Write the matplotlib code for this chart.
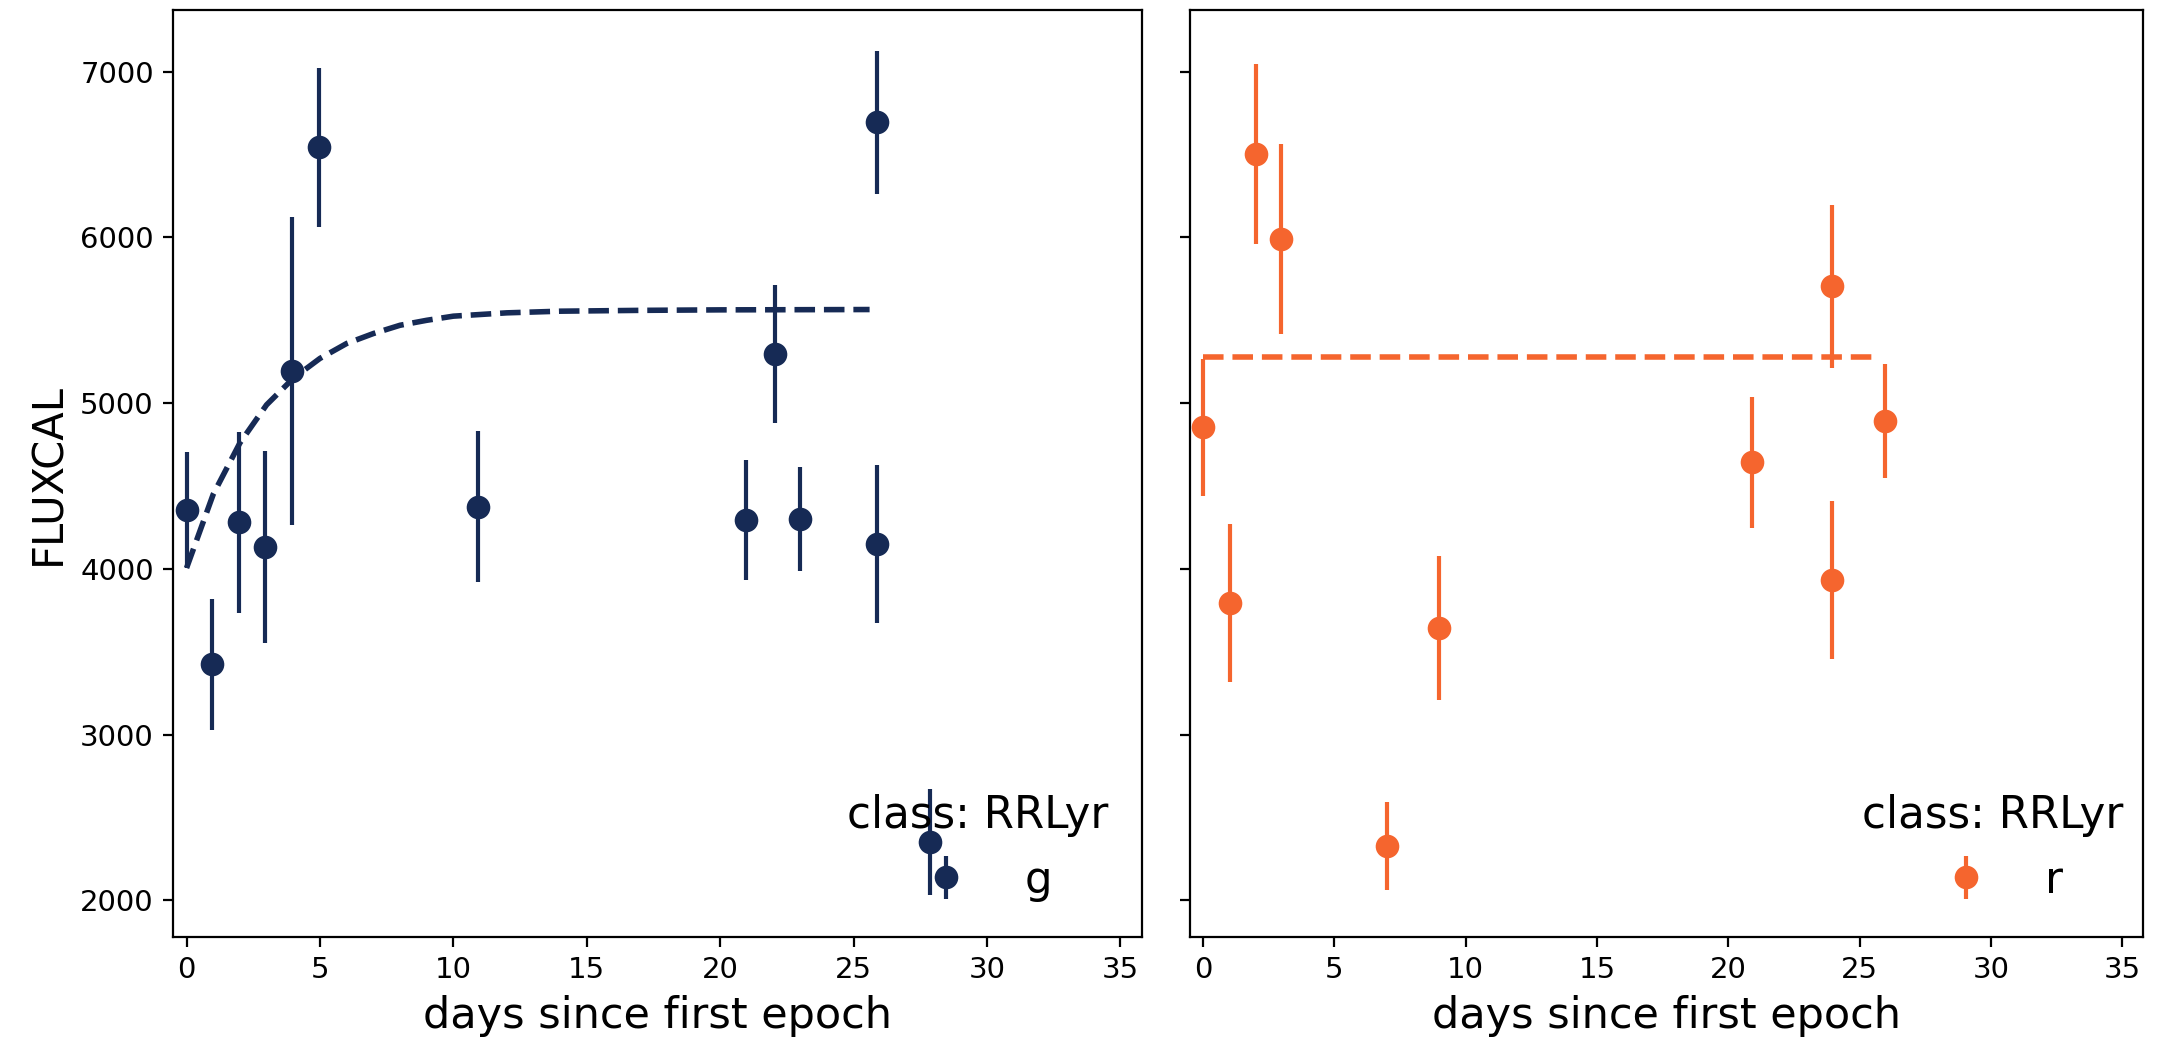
import numpy as np
import matplotlib.pyplot as plt

# g band observations
g_days = [0.0, 0.96, 1.95, 2.94, 3.94, 4.98, 10.92, 20.97, 22.04, 22.98, 25.87, 25.87, 27.88]
g_flux = [4354, 3423, 4281, 4133, 5196, 6543, 4374, 4294, 5296, 4302, 6695, 4149, 2353]
g_err = [350, 395, 545, 580, 930, 480, 455, 360, 415, 315, 430, 475, 320]

# r band observations
r_days = [0.0, 1.02, 2.01, 2.99, 7.01, 9.0, 20.92, 23.96, 23.96, 25.95]
r_flux = [4855, 3792, 6503, 5990, 2329, 3644, 4642, 5705, 3933, 4891]
r_err = [413, 477, 545, 575, 266, 433, 395, 490, 475, 345]

# fitted model curves
g_fit_days = [0, 1, 2, 3, 4, 5, 6, 7, 8, 9, 10, 12, 14, 17, 20, 25.6]
g_fit_flux = [4005, 4450, 4760, 4990, 5150, 5270, 5360, 5420, 5470, 5500, 5525, 5545, 5555, 5560, 5563, 5565]
r_fit_days = [0, 25.6]
r_fit_flux = [5276, 5276]

navy = '#162a55'
orange = '#f5652e'

plt.close("all")
fig, axes = plt.subplots(1, 2, sharey=True, figsize=(10.825, 5.21), dpi=200,
                         gridspec_kw={'width_ratios': [969, 954]})
fig.subplots_adjust(left=0.08, right=0.99, bottom=0.101, top=0.99, wspace=0.05)

panels = [
    (axes[0], g_days, g_flux, g_err, g_fit_days, g_fit_flux, navy, 'g', (1.006, -0.0045)),
    (axes[1], r_days, r_flux, r_err, r_fit_days, r_fit_flux, orange, 'r', (1.020, -0.0045)),
]
for ax, d, f, e, fd, ff, c, band, anchor in panels:
    ax.errorbar(d, f, yerr=e, fmt='o', color=c, ms=7.5, elinewidth=1.5, label=band)
    ax.plot(fd, ff, '--', color=c, lw=2)
    ax.set_xlim(-0.5, 35.8)
    ax.set_xlabel('days since first epoch', fontsize=15.5)
    ax.tick_params(labelsize=10.5)
    ax.legend(loc='lower right', bbox_to_anchor=anchor, frameon=False,
              title='class: RRLyr', fontsize=15.7, title_fontsize=15.7)

axes[0].set_ylim(1780, 7370)
axes[0].set_yticks([2000, 3000, 4000, 5000, 6000, 7000])
axes[0].set_ylabel('FLUXCAL', fontsize=15)

fig.savefig('out.png')
